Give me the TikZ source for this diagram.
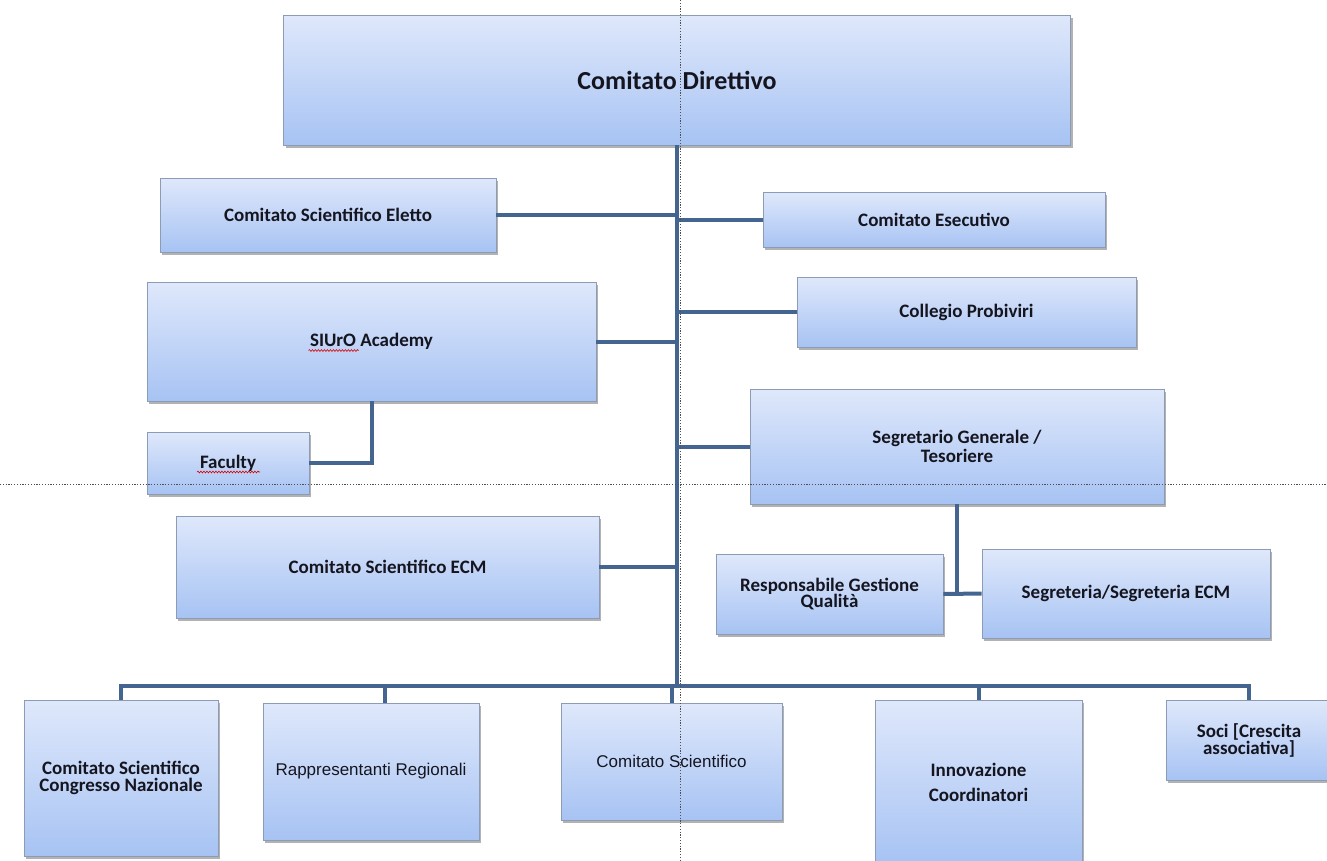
\documentclass[tikz,border=0pt]{standalone}
\usepackage{fontspec}
\setmainfont{Carlito}
\newfontfamily\arialish{Liberation Sans}
\usetikzlibrary{shadows,calc,decorations.pathmorphing}
\definecolor{boxtop}{HTML}{DFE8FB}
\definecolor{boxbot}{HTML}{A7C3F3}
\definecolor{boxline}{HTML}{8C9CB4}
\definecolor{conn}{HTML}{44658F}
\definecolor{guide}{HTML}{505050}
\definecolor{txt}{HTML}{151520}
\tikzset{
  box/.style={draw=boxline, line width=0.6pt, top color=boxtop, bottom color=boxbot,
    drop shadow={shadow xshift=2pt, shadow yshift=-2.5pt, fill=black, opacity=0.3},
    align=center, text=txt, inner sep=0pt,
    font=\bfseries\fontsize{19}{17}\selectfont},
  plain/.style={font=\arialish\fontsize{17}{17}\selectfont},
  conn/.style={draw=conn, line width=4pt, line join=miter},
  guide/.style={draw=guide, line width=0.8pt, dash pattern=on 1.2pt off 1.6pt},
  squiggle/.style={draw=red!85!black, line width=0.6pt, decorate,
    decoration={snake, amplitude=0.9pt, segment length=3pt}}
}
\begin{document}
\begin{tikzpicture}[x=1pt,y=-1pt]
\useasboundingbox (0,0) rectangle (1327,860);

% nodes
\node[box, minimum width=787pt, minimum height=130pt, font=\bfseries\fontsize{26}{28}\selectfont] (dir) at (677,80) {Comitato Direttivo};
\node[box, minimum width=336pt, minimum height=74pt] (eletto) at (328,215) {Comitato Scientifico Eletto};
\node[box, minimum width=342pt, minimum height=55pt] (esec) at (934,220) {Comitato Esecutivo};
\node[box, minimum width=449pt, minimum height=119pt] (siuro) at (371.5,341.5) {SIUrO Academy};
\node[box, minimum width=339pt, minimum height=70pt] (prob) at (966.5,312) {Collegio Probiviri};
\node[box, minimum width=162pt, minimum height=62pt] (faculty) at (228,463) {Faculty};
\node[box, minimum width=414pt, minimum height=115pt, font=\bfseries\fontsize{19}{19}\selectfont] (segr) at (957,446.5) {Segretario Generale /\\Tesoriere};
\node[box, minimum width=423pt, minimum height=102pt] (ecm) at (387.5,567) {Comitato Scientifico ECM};
\node[box, minimum width=227pt, minimum height=80pt] (resp) at (829.5,594) {Responsabile Gestione\\Qualità};
\node[box, minimum width=288pt, minimum height=89pt] (segreteria) at (1126,593.5) {Segreteria/Segreteria ECM};
\node[box, minimum width=194pt, minimum height=156pt] (csn) at (121,778) {Comitato Scientifico\\Congresso Nazionale};
\node[box, plain, minimum width=216pt, minimum height=137pt] (rapp) at (371,771.5) {Rappresentanti Regionali};
\node[box, plain, minimum width=221pt, minimum height=117pt] (cs) at (671.5,761.5) {Comitato Scientifico};
\node[box, minimum width=207pt, minimum height=164pt, font=\bfseries\fontsize{19}{25}\selectfont] (innov) at (978.5,782) {Innovazione\\Coordinatori};
\node[box, minimum width=166pt, minimum height=80pt] (soci) at (1249,740) {Soci [Crescita\\associativa]};

% spell-check marks
\draw[squiggle] ($(siuro.center)+(-63,9)$) -- ($(siuro.center)+(-13,9)$);
\draw[squiggle] ($(faculty.center)+(-31,9)$) -- ($(faculty.center)+(32,9)$);

% connectors
\coordinate (bus) at (677,686);
\draw[conn] (dir.south) -- (dir.south |- bus);
\draw[conn] (eletto.east) -- (eletto.east -| dir.south);
\draw[conn] (esec.west) -- (esec.west -| dir.south);
\draw[conn] (siuro.east) -- (siuro.east -| dir.south);
\draw[conn] (prob.west) -- (prob.west -| dir.south);
\draw[conn] (segr.west) -- (segr.west -| dir.south);
\draw[conn] (ecm.east) -- (ecm.east -| dir.south);
\draw[conn] (siuro.south) |- (faculty.east);
\draw[conn] (segr.south) -- (segr.south |- resp.east);
\draw[conn] (resp.east) -- (segreteria.west);
\draw[conn] (csn.north) -- (csn.north |- bus) -- (soci.north |- bus) -- (soci.north);
\draw[conn] ($(rapp.north)+(14,0)$) -- ($(rapp.north |- bus)+(14,0)$);
\draw[conn] (cs.north) -- (cs.north |- bus);
\draw[conn] (innov.north) -- (innov.north |- bus);

% guide lines
\coordinate (gt) at (680,0);
\coordinate (gb) at (680,860);
\coordinate (gl) at (0,484);
\coordinate (gr) at (1327,484);
\draw[guide] (gt) -- (gb);
\draw[guide] (gl) -- (gr);
\end{tikzpicture}
\end{document}
